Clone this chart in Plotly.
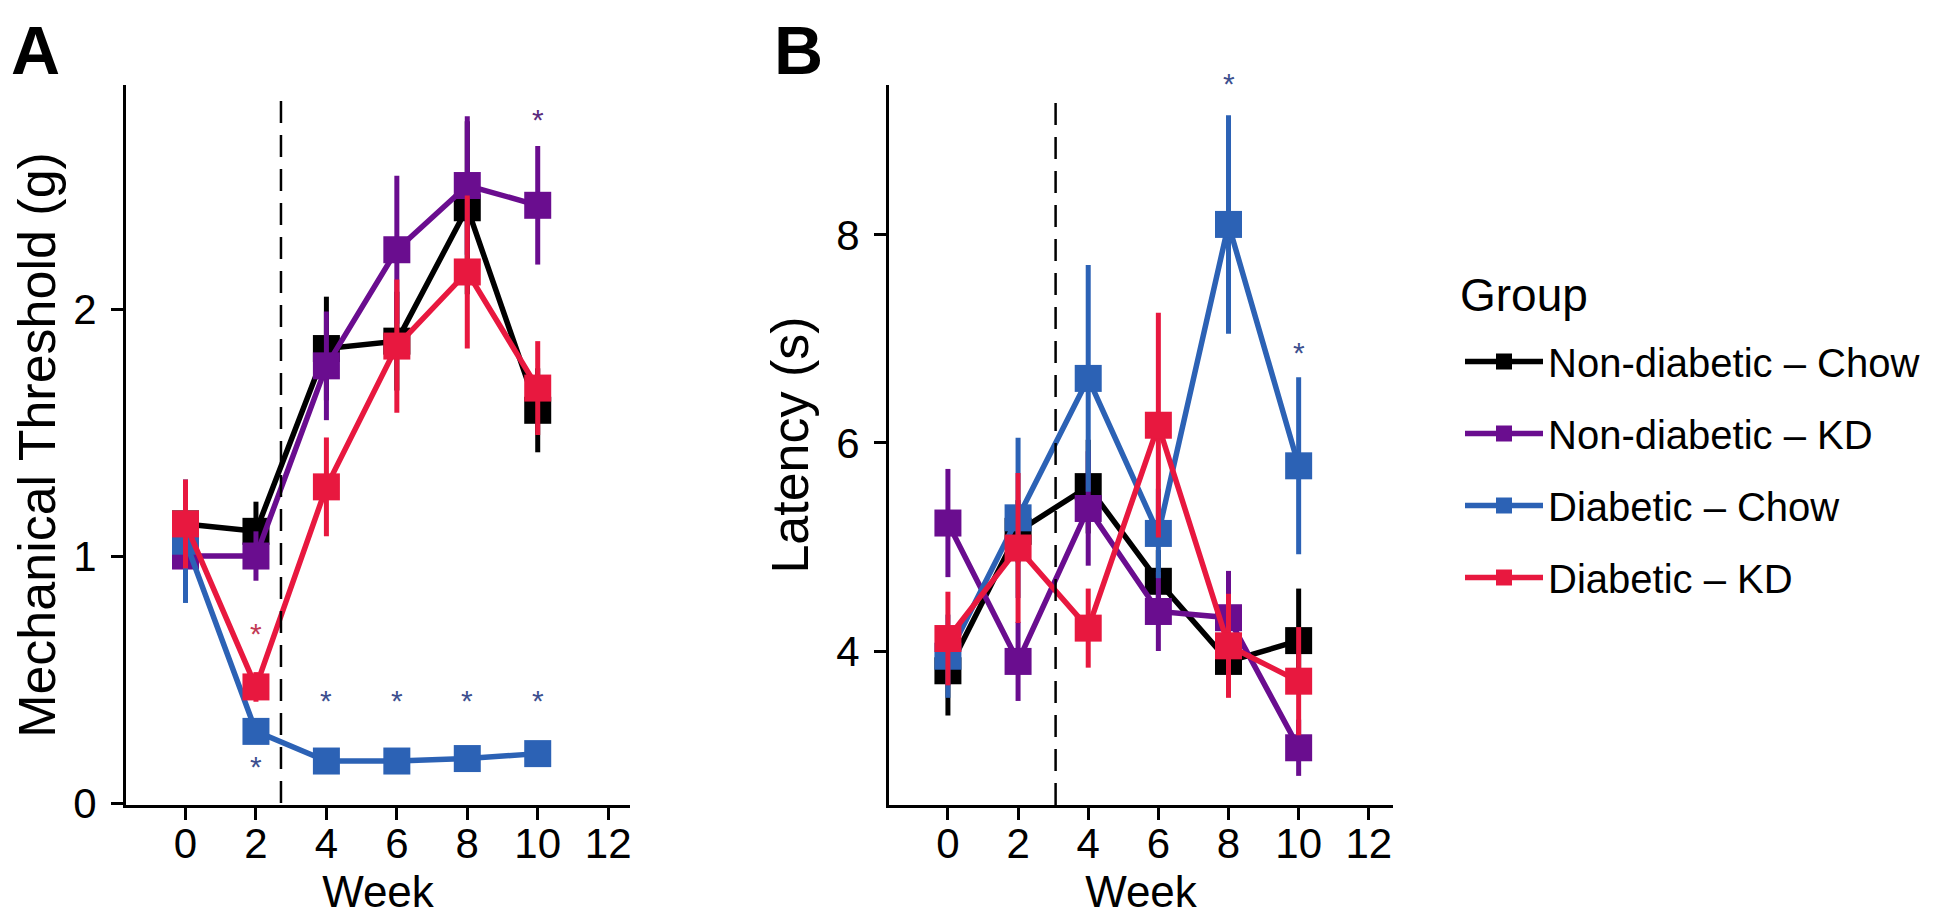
import plotly.graph_objects as go

# ---------------- data ----------------
weeks = [0, 2, 4, 6, 8, 10]
groups = ["Non-diabetic – Chow", "Non-diabetic – KD", "Diabetic – Chow", "Diabetic – KD"]
colors = ["#000000", "#6A0D8F", "#2C62B5", "#E8183F"]

# Panel A: Mechanical threshold (g), mean and error
thr_nd_chow = [1.13, 1.10, 1.84, 1.87, 2.41, 1.59]
thr_nd_chow_err = [0.12, 0.12, 0.21, 0.20, 0.35, 0.17]
thr_nd_kd = [1.00, 1.00, 1.77, 2.24, 2.50, 2.42]
thr_nd_kd_err = [0.10, 0.10, 0.22, 0.30, 0.28, 0.24]
thr_d_chow = [1.06, 0.29, 0.17, 0.17, 0.18, 0.20]
thr_d_chow_err = [0.25, 0.05, 0.03, 0.03, 0.03, 0.05]
thr_d_kd = [1.13, 0.47, 1.28, 1.85, 2.15, 1.68]
thr_d_kd_err = [0.18, 0.06, 0.20, 0.27, 0.31, 0.19]

# Panel B: Latency (s), mean and error
lat_nd_chow = [3.81, 5.15, 5.58, 4.67, 3.90, 4.10]
lat_nd_chow_err = [0.43, 0.30, 0.45, 0.30, 0.20, 0.50]
lat_nd_kd = [5.23, 3.90, 5.37, 4.38, 4.32, 3.07]
lat_nd_kd_err = [0.52, 0.38, 0.55, 0.38, 0.45, 0.27]
lat_d_chow = [3.95, 5.28, 6.62, 5.13, 8.10, 5.78]
lat_d_chow_err = [0.40, 0.77, 1.09, 0.43, 1.05, 0.85]
lat_d_kd = [4.12, 4.99, 4.22, 6.17, 4.05, 3.71]
lat_d_kd_err = [0.45, 0.72, 0.38, 1.08, 0.50, 0.52]

# significance stars: (week, y, colour)
stars_A_x = [2, 2, 4, 6, 8, 10, 10]
stars_A_y = [0.67, 0.13, 0.40, 0.40, 0.40, 0.40, 2.75]
stars_A_c = ["#C23A55", "#3D4F8F", "#3D4F8F", "#3D4F8F", "#3D4F8F", "#3D4F8F", "#5B2B7E"]
stars_B_x = [8, 10]
stars_B_y = [9.42, 6.83]
stars_B_c = ["#3D4F8F", "#3D4F8F"]

# diet switch (dashed reference line), in weeks
switch_A = 2.71
switch_B = 3.07

x_ticks = [0, 2, 4, 6, 8, 10, 12]
y_ticks_A = [0, 1, 2]
y_ticks_B = [4, 6, 8]

# ---------------- figure ----------------
FONT = "Liberation Sans, Arial, Helvetica, sans-serif"
W, H = 1942, 924
fig = go.Figure()

series_A = [(thr_nd_chow, thr_nd_chow_err), (thr_nd_kd, thr_nd_kd_err),
            (thr_d_chow, thr_d_chow_err), (thr_d_kd, thr_d_kd_err)]
series_B = [(lat_nd_chow, lat_nd_chow_err), (lat_nd_kd, lat_nd_kd_err),
            (lat_d_chow, lat_d_chow_err), (lat_d_kd, lat_d_kd_err)]

for i, (name, col) in enumerate(zip(groups, colors)):
    for j, (series, xa, ya) in enumerate([(series_A, "x", "y"), (series_B, "x2", "y2")]):
        vals, err = series[i]
        fig.add_trace(go.Scatter(
            x=weeks, y=vals, xaxis=xa, yaxis=ya,
            mode="lines+markers", name=name, legendgroup=name,
            showlegend=(j == 0),
            line=dict(color=col, width=5.5),
            marker=dict(symbol="square", size=27, color=col, line=dict(width=0)),
            error_y=dict(type="data", array=err, color=col, thickness=5, width=0),
        ))

annotations = []
for xs, ys, cs, xr, yr in [(stars_A_x, stars_A_y, stars_A_c, "x", "y"),
                           (stars_B_x, stars_B_y, stars_B_c, "x2", "y2")]:
    for x, y, c in zip(xs, ys, cs):
        annotations.append(dict(x=x, y=y, xref=xr, yref=yr, text="*", showarrow=False,
                                font=dict(size=30, color=c, family=FONT),
                                xanchor="center", yanchor="middle", yshift=4))

annotations += [
    dict(x=0, y=1, xref="paper", yref="paper", text="<b>A</b>", showarrow=False,
         xanchor="left", yanchor="top", xshift=1, yshift=-2,
         font=dict(size=68, color="black", family=FONT)),
    dict(x=768 / W, y=1, xref="paper", yref="paper", text="<b>B</b>", showarrow=False,
         xanchor="left", yanchor="top", xshift=-4, yshift=-2,
         font=dict(size=68, color="black", family=FONT)),
    dict(x=1450 / W, y=1 - 287 / H, xref="paper", yref="paper", text="Group", showarrow=False,
         xanchor="left", yanchor="middle", font=dict(size=46, color="black", family=FONT)),
]

shapes = [
    dict(type="line", xref="x", yref="y", x0=switch_A, x1=switch_A, y0=0, y1=2.88,
         line=dict(color="black", width=2.5, dash="22px,12px")),
    dict(type="line", xref="x2", yref="y2", x0=switch_B, x1=switch_B, y0=2.52, y1=9.38,
         line=dict(color="black", width=2.5, dash="22px,12px")),
]

axis_common = dict(showgrid=False, zeroline=False, showline=True, linecolor="black",
                   linewidth=3, ticks="outside", ticklen=12, tickwidth=3, tickcolor="black",
                   tickfont=dict(size=42, color="black", family=FONT), automargin=False)

ydom = [1 - 797 / H, 1 - 77 / H]

fig.update_layout(
    width=W, height=H,
    margin=dict(l=0, r=0, t=0, b=0),
    paper_bgcolor="white", plot_bgcolor="white",
    font=dict(family=FONT, color="black"),
    xaxis=dict(domain=[118 / W, 622 / W], range=[-1.69, 12.62], tickvals=x_ticks,
               ticklabelstandoff=-12,
               title=dict(text="Week", font=dict(size=44, family=FONT), standoff=8),
               anchor="y", **axis_common),
    yaxis=dict(domain=ydom, range=[-0.008, 2.907], tickvals=y_ticks_A,
               ticklabelstandoff=6,
               title=dict(text="Mechanical Threshold (g)", font=dict(size=52, family=FONT), standoff=30),
               anchor="x", **axis_common),
    xaxis2=dict(domain=[881 / W, 1385 / W], range=[-1.68, 12.69], tickvals=x_ticks,
                ticklabelstandoff=-12,
                title=dict(text="Week", font=dict(size=44, family=FONT), standoff=8),
                anchor="y2", **axis_common),
    yaxis2=dict(domain=ydom, range=[2.52, 9.44], tickvals=y_ticks_B,
                ticklabelstandoff=6,
                title=dict(text="Latency (s)", font=dict(size=52, family=FONT), standoff=12),
                anchor="x2", **axis_common),
    legend=dict(x=1452 / W, y=1 - 321 / H, xanchor="left", yanchor="top",
                font=dict(size=40, family=FONT, color="black"),
                bgcolor="rgba(0,0,0,0)", tracegroupgap=17, itemwidth=78),
    annotations=annotations,
    shapes=shapes,
)

fig.write_html("out.html")
